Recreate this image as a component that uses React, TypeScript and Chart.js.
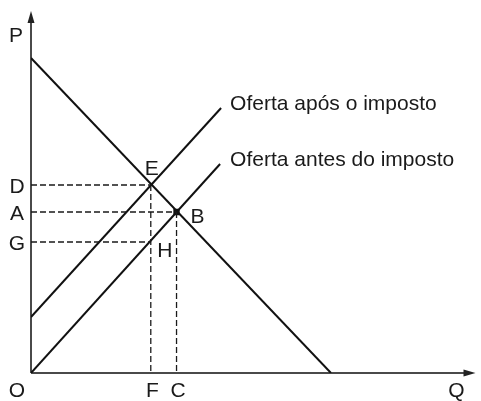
import React, { useEffect, useRef } from "react";
import { Chart, registerables } from "chart.js";

Chart.register(...registerables);

// ---- data (economic units) ----
const axisMaxQ = 45;
const axisMaxP = 36.5;
const arrowTipQ = 44.9;
const arrowTipP = 36.2;

const demandQ = [0, 30.3];
const demandP = [31.5, 0];

const supplyBeforeQ = [0, 19.1];
const supplyBeforeP = [0, 20.9];

const supplyAfterQ = [0, 19.2];
const supplyAfterP = [5.6, 26.5];

const pointNames = ["E", "B", "H"];
const pointQ = [12.1, 14.7, 12.1];
const pointP = [18.8, 16.1, 13.1];

const priceLabels = ["D", "A", "G"];
const priceLevels = [18.8, 16.1, 13.1];
const priceLevelQ = [12.1, 14.7, 12.1];

const qtyLabels = ["F", "C"];
const qtyLevels = [12.1, 14.7];
const qtyLevelP = [18.8, 16.1];

const supplyAfterLabel = "Oferta após o imposto";
const supplyBeforeLabel = "Oferta antes do imposto";
const axisLabelP = "P";
const axisLabelQ = "Q";
const originLabel = "O";

const FONT = '21px "Liberation Sans", Arial, sans-serif';

const toPts = (qs: number[], ps: number[]) => qs.map((q, i) => ({ x: q, y: ps[i] }));

export default function App() {
  const ref = useRef<HTMLCanvasElement | null>(null);

  useEffect(() => {
    if (!ref.current) return;

    const dashed: any[] = [];
    priceLevels.forEach((p, i) => {
      dashed.push({
        type: "scatter",
        data: [{ x: 0, y: p }, { x: priceLevelQ[i], y: p }],
        showLine: true,
        borderColor: "#1a1a1a",
        borderWidth: 1.3,
        borderDash: [6, 3],
        pointRadius: 0,
      });
    });
    qtyLevels.forEach((q, i) => {
      dashed.push({
        type: "scatter",
        data: [{ x: q, y: qtyLevelP[i] }, { x: q, y: 0 }],
        showLine: true,
        borderColor: "#1a1a1a",
        borderWidth: 1.3,
        borderDash: [6, 3],
        pointRadius: 0,
      });
    });

    const axesPlugin = {
      id: "econAxes",
      beforeDatasetsDraw(chart: any) {
        const { ctx, scales } = chart;
        const xs = scales.x;
        const ys = scales.y;
        const x0 = xs.getPixelForValue(0);
        const y0 = ys.getPixelForValue(0);
        const xt = xs.getPixelForValue(arrowTipQ);
        const yt = ys.getPixelForValue(arrowTipP);
        ctx.save();
        ctx.strokeStyle = "#4a4a4a";
        ctx.fillStyle = "#222";
        ctx.lineWidth = 2;
        ctx.beginPath();
        ctx.moveTo(x0, y0);
        ctx.lineTo(x0, yt + 8);
        ctx.moveTo(x0, y0);
        ctx.lineTo(xt - 8, y0);
        ctx.stroke();
        // arrowheads
        ctx.beginPath();
        ctx.moveTo(x0, yt);
        ctx.lineTo(x0 - 3.5, yt + 12);
        ctx.lineTo(x0 + 3.5, yt + 12);
        ctx.closePath();
        ctx.fill();
        ctx.beginPath();
        ctx.moveTo(xt, y0);
        ctx.lineTo(xt - 12, y0 - 3.5);
        ctx.lineTo(xt - 12, y0 + 3.5);
        ctx.closePath();
        ctx.fill();
        ctx.restore();
      },
      afterDatasetsDraw(chart: any) {
        const { ctx, scales } = chart;
        const xs = scales.x;
        const ys = scales.y;
        const x0 = xs.getPixelForValue(0);
        const y0 = ys.getPixelForValue(0);
        ctx.save();
        ctx.font = FONT;
        ctx.fillStyle = "#1a1a1a";
        ctx.textBaseline = "alphabetic";
        ctx.textAlign = "center";
        // axis labels
        ctx.fillText(axisLabelP, x0 - 15, ys.getPixelForValue(arrowTipP) + 31);
        ctx.fillText(axisLabelQ, xs.getPixelForValue(arrowTipQ) - 19, y0 + 24);
        ctx.fillText(originLabel, x0 - 14, y0 + 24);
        priceLabels.forEach((l, i) => {
          ctx.fillText(l, x0 - 14, ys.getPixelForValue(priceLevels[i]) + 8);
        });
        qtyLabels.forEach((l, i) => {
          ctx.fillText(l, xs.getPixelForValue(qtyLevels[i]) + 1.5, y0 + 24);
        });
        // point labels
        const offs: Record<string, [number, number]> = {
          E: [1, -10],
          B: [21, 11],
          H: [14, 15],
        };
        pointNames.forEach((n, i) => {
          const px = xs.getPixelForValue(pointQ[i]);
          const py = ys.getPixelForValue(pointP[i]);
          const o = offs[n];
          ctx.fillText(n, px + o[0], py + o[1]);
        });
        // curve labels
        ctx.textAlign = "left";
        ctx.fillText(
          supplyAfterLabel,
          xs.getPixelForValue(supplyAfterQ[1]) + 9,
          ys.getPixelForValue(supplyAfterP[1]) + 2
        );
        ctx.fillText(
          supplyBeforeLabel,
          xs.getPixelForValue(supplyBeforeQ[1]) + 10,
          ys.getPixelForValue(supplyBeforeP[1]) + 2
        );
        ctx.restore();
      },
    };

    const chart = new Chart(ref.current, {
      type: "scatter",
      data: {
        datasets: [
          ...dashed,
          {
            data: toPts(demandQ, demandP),
            showLine: true,
            borderColor: "#111",
            borderWidth: 2,
            pointRadius: 0,
          },
          {
            data: toPts(supplyBeforeQ, supplyBeforeP),
            showLine: true,
            borderColor: "#111",
            borderWidth: 2,
            pointRadius: 0,
          },
          {
            data: toPts(supplyAfterQ, supplyAfterP),
            showLine: true,
            borderColor: "#111",
            borderWidth: 2,
            pointRadius: 0,
          },
          {
            data: [{ x: pointQ[1], y: pointP[1] }],
            showLine: false,
            pointStyle: "rect",
            pointRadius: 4.5,
            backgroundColor: "#111",
            borderColor: "#111",
            borderWidth: 0,
          },
        ],
      },
      options: {
        responsive: false,
        animation: false,
        events: [],
        layout: { padding: { left: 31, right: 0, top: 8, bottom: 28 } },
        plugins: {
          legend: { display: false },
          tooltip: { enabled: false },
        },
        scales: {
          x: { type: "linear", min: 0, max: axisMaxQ, display: false },
          y: { type: "linear", min: 0, max: axisMaxP, display: false },
        },
      },
      plugins: [axesPlugin],
    });
    return () => chart.destroy();
  }, []);

  return (
    <div style={{ position: "fixed", left: 0, top: 0, width: 481, height: 401, background: "#fff" }}>
      <canvas ref={ref} width={481} height={401} style={{ width: 481, height: 401, display: "block" }} />
    </div>
  );
}
